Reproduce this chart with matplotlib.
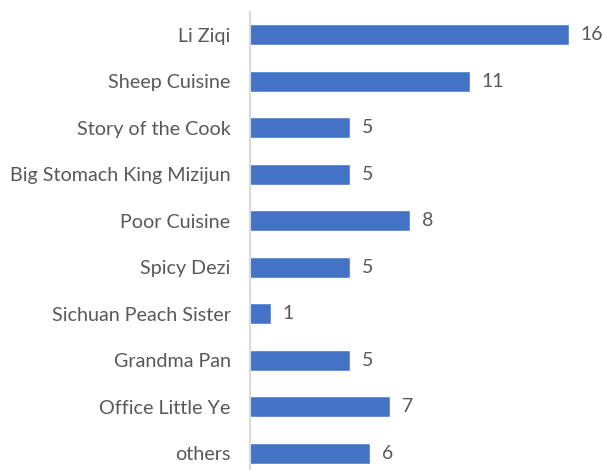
import matplotlib
matplotlib.use("Agg")
import matplotlib.pyplot as plt

categories = [
    "Li Ziqi",
    "Sheep Cuisine",
    "Story of the Cook",
    "Big Stomach King Mizijun",
    "Poor Cuisine",
    "Spicy Dezi",
    "Sichuan Peach Sister",
    "Grandma Pan",
    "Office Little Ye",
    "others",
]
values = [16, 11, 5, 5, 8, 5, 1, 5, 7, 6]

BAR_COLOR = "#4472C4"
TEXT_COLOR = "#595959"

plt.rcParams["font.family"] = ["Lato", "DejaVu Sans"]

fig = plt.figure(figsize=(6.03, 4.70), dpi=100)
# axes in pixel terms: left 250, right 598, top 11.5, bottom at figure edge
ax = fig.add_axes([250 / 603, 0.0, 348 / 603, (470 - 11.5) / 470])

ypos = list(range(len(categories)))
bars = ax.barh(ypos, values, height=0.40, color=BAR_COLOR, edgecolor="#5B8BD8", linewidth=0.6)

ax.set_xlim(0, 17.5)
ax.set_ylim(9.36, -0.5)
ax.set_yticks(ypos)
ax.set_yticklabels(categories, fontsize=14.2, color=TEXT_COLOR)
ax.tick_params(axis="y", length=0, pad=14)
ax.set_xticks([])

for side in ("top", "right", "bottom"):
    ax.spines[side].set_visible(False)
ax.spines["left"].set_color("#D9D9D9")
ax.spines["left"].set_linewidth(1.5)

for b, v in zip(bars, values):
    ax.annotate(
        str(v),
        xy=(b.get_width(), b.get_y() + b.get_height() / 2),
        xytext=(9, 0),
        textcoords="offset points",
        ha="left",
        va="center",
        fontsize=14,
        color=TEXT_COLOR,
    )

fig.savefig("out.png", dpi=100)
